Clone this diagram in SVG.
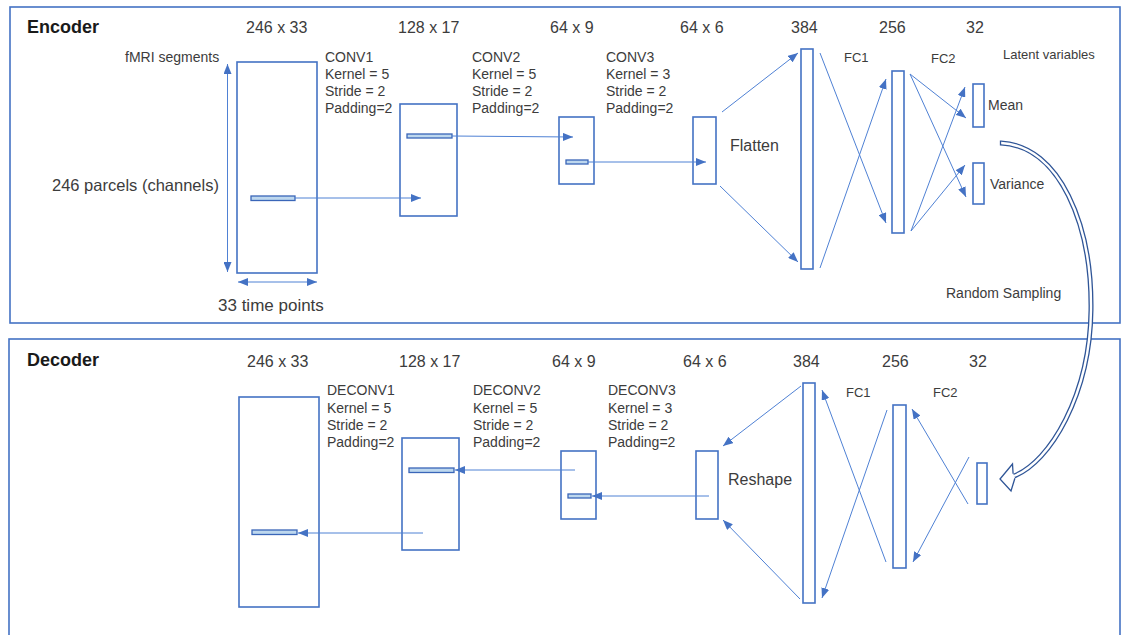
<svg xmlns="http://www.w3.org/2000/svg" width="1122" height="635" viewBox="0 0 1122 635">
<defs>
<style>
.frame{fill:none;stroke:#4472c4;stroke-width:1.6}
.box{fill:#fff;stroke:#4472c4;stroke-width:1.6}
.ker{fill:#bdd7ee;stroke:#3a66b8;stroke-width:1.3}
.ln{fill:none;stroke:#4f81d4;stroke-width:1}
.t{font-family:"Liberation Sans",Arial,sans-serif;fill:#3c3c3c}
.dim{font-size:16px}
.lab{font-size:14px}
.sm{font-size:13px}
.title{font-family:"Liberation Sans",Arial,sans-serif;font-size:18px;font-weight:bold;fill:#1a1a1a}
</style>
<marker id="ah" viewBox="0 0 10 8" refX="10" refY="4" markerWidth="10" markerHeight="8" orient="auto-start-reverse" markerUnits="userSpaceOnUse">
<path d="M0,0 L10,4 L0,8 z" fill="#4472c4"/>
</marker>
</defs>
<rect width="1122" height="635" fill="#fff"/>

<g id="encoder-frame">
<rect class="frame" x="10" y="7" width="1110" height="316"/>
<text class="title" x="27" y="33">Encoder</text>
</g>
<g id="decoder-frame">
<rect class="frame" x="9" y="339" width="1111" height="310"/>
<text class="title" x="27" y="366">Decoder</text>
</g>

<g id="enc-input">
<rect class="box" x="237" y="62" width="80" height="211"/>
<rect class="ker" x="251" y="196" width="44" height="4.5"/>
<text class="t dim" x="246" y="33">246 x 33</text>
<text class="t lab" x="125" y="62">fMRI segments</text>
<text class="t" style="font-size:16.5px" x="52" y="191">246 parcels (channels)</text>
<text class="t" style="font-size:17px" x="218" y="311">33 time points</text>
</g>
<g id="enc-conv1">
<rect class="box" x="400" y="104" width="57" height="112"/>
<rect class="ker" x="407" y="134" width="45" height="4"/>
<text class="t dim" x="398" y="33">128 x 17</text>
<text class="t lab" x="325" y="62">CONV1</text>
<text class="t lab" x="325" y="79">Kernel = 5</text>
<text class="t lab" x="325" y="96">Stride = 2</text>
<text class="t lab" x="325" y="113">Padding=2</text>
</g>
<g id="enc-conv2">
<rect class="box" x="559" y="117" width="35" height="67"/>
<rect class="ker" x="566" y="160" width="22" height="4"/>
<text class="t dim" x="550" y="33">64 x 9</text>
<text class="t lab" x="472" y="62">CONV2</text>
<text class="t lab" x="472" y="79">Kernel = 5</text>
<text class="t lab" x="472" y="96">Stride = 2</text>
<text class="t lab" x="472" y="113">Padding=2</text>
</g>
<g id="enc-conv3">
<rect class="box" x="693" y="117" width="23" height="67"/>
<text class="t dim" x="680" y="33">64 x 6</text>
<text class="t lab" x="606" y="62">CONV3</text>
<text class="t lab" x="606" y="79">Kernel = 3</text>
<text class="t lab" x="606" y="96">Stride = 2</text>
<text class="t lab" x="606" y="113">Padding=2</text>
<text class="t dim" x="730" y="151">Flatten</text>
</g>
<g id="enc-384">
<rect class="box" x="801" y="49" width="12" height="220"/>
<text class="t dim" x="791" y="33">384</text>
<text class="t sm" x="844" y="62">FC1</text>
</g>
<g id="enc-256">
<rect class="box" x="892" y="71" width="12" height="162"/>
<text class="t dim" x="879" y="33">256</text>
<text class="t sm" x="931" y="63">FC2</text>
</g>
<g id="enc-latent">
<text class="t dim" x="966" y="33">32</text>
<text class="t sm" x="1003" y="59">Latent variables</text>
<rect class="box" x="973" y="84" width="11" height="43"/>
<text class="t lab" x="988" y="110">Mean</text>
<rect class="box" x="973" y="163" width="11" height="41"/>
<text class="t lab" x="990" y="189">Variance</text>
<text class="t lab" x="946" y="298">Random Sampling</text>
</g>

<g id="dec-output">
<rect class="box" x="239" y="397" width="80" height="210"/>
<rect class="ker" x="252" y="530" width="45" height="4.5"/>
<text class="t dim" x="247" y="367">246 x 33</text>
<text class="t lab" x="327" y="395">DECONV1</text>
<text class="t lab" x="327" y="413">Kernel = 5</text>
<text class="t lab" x="327" y="430">Stride = 2</text>
<text class="t lab" x="327" y="447">Padding=2</text>
</g>
<g id="dec-deconv1">
<rect class="box" x="402" y="438" width="57" height="112"/>
<rect class="ker" x="409" y="468" width="45" height="4.5"/>
<text class="t dim" x="399" y="367">128 x 17</text>
<text class="t lab" x="473" y="395">DECONV2</text>
<text class="t lab" x="473" y="413">Kernel = 5</text>
<text class="t lab" x="473" y="430">Stride = 2</text>
<text class="t lab" x="473" y="447">Padding=2</text>
</g>
<g id="dec-deconv2">
<rect class="box" x="561" y="451" width="35" height="68"/>
<rect class="ker" x="568" y="494" width="23" height="4"/>
<text class="t dim" x="552" y="367">64 x 9</text>
<text class="t lab" x="608" y="395">DECONV3</text>
<text class="t lab" x="608" y="413">Kernel = 3</text>
<text class="t lab" x="608" y="430">Stride = 2</text>
<text class="t lab" x="608" y="447">Padding=2</text>
</g>
<g id="dec-deconv3">
<rect class="box" x="696" y="451" width="22" height="68"/>
<text class="t dim" x="683" y="367">64 x 6</text>
<text class="t dim" x="728" y="485">Reshape</text>
</g>
<g id="dec-384">
<rect class="box" x="803" y="383" width="12" height="220"/>
<text class="t dim" x="793" y="367">384</text>
<text class="t sm" x="846" y="397">FC1</text>
</g>
<g id="dec-256">
<rect class="box" x="893" y="405" width="13" height="163"/>
<text class="t dim" x="882" y="367">256</text>
<text class="t sm" x="933" y="397">FC2</text>
</g>
<g id="dec-latent">
<rect class="box" x="977" y="463" width="10" height="41"/>
<text class="t dim" x="969" y="367">32</text>
</g>

<g id="connectors">
<line class="ln" x1="227.5" y1="64" x2="227.5" y2="272" marker-start="url(#ah)" marker-end="url(#ah)"/>
<line class="ln" x1="238" y1="282" x2="317" y2="282" marker-start="url(#ah)" marker-end="url(#ah)"/>
<line class="ln" x1="295" y1="198" x2="421" y2="198" marker-end="url(#ah)"/>
<line class="ln" x1="452" y1="136" x2="573" y2="137" marker-end="url(#ah)"/>
<line class="ln" x1="588" y1="162" x2="706" y2="162" marker-end="url(#ah)"/>
<line class="ln" x1="722" y1="112" x2="798" y2="53" marker-end="url(#ah)"/>
<line class="ln" x1="720" y1="186" x2="798" y2="262" marker-end="url(#ah)"/>
<line class="ln" x1="820" y1="53" x2="886" y2="223" marker-end="url(#ah)"/>
<line class="ln" x1="820" y1="268" x2="886" y2="79" marker-end="url(#ah)"/>
<line class="ln" x1="910" y1="74" x2="966" y2="118" marker-end="url(#ah)"/>
<line class="ln" x1="910" y1="74" x2="966" y2="197" marker-end="url(#ah)"/>
<line class="ln" x1="911" y1="231" x2="965" y2="87" marker-end="url(#ah)"/>
<line class="ln" x1="911" y1="231" x2="965" y2="165" marker-end="url(#ah)"/>

<line class="ln" x1="423" y1="533" x2="298" y2="533" marker-end="url(#ah)"/>
<line class="ln" x1="575" y1="470" x2="455" y2="470" marker-end="url(#ah)"/>
<line class="ln" x1="709" y1="496" x2="592" y2="496" marker-end="url(#ah)"/>
<line class="ln" x1="801" y1="386" x2="723" y2="446" marker-end="url(#ah)"/>
<line class="ln" x1="800" y1="599" x2="723" y2="520" marker-end="url(#ah)"/>
<line class="ln" x1="887" y1="410" x2="822" y2="598" marker-end="url(#ah)"/>
<line class="ln" x1="886" y1="562" x2="822" y2="390" marker-end="url(#ah)"/>
<line class="ln" x1="969" y1="457" x2="913" y2="562" marker-end="url(#ah)"/>
<line class="ln" x1="968" y1="504" x2="912" y2="409" marker-end="url(#ah)"/>

<g id="sampling-arrow">
<path d="M1001,143 C1060,146 1092,225 1091,310 C1090,395 1050,462 1014,476" fill="none" stroke="#2f5597" stroke-width="5"/>
<path d="M1001,143 C1060,146 1092,225 1091,310 C1090,395 1050,462 1014,476" fill="none" stroke="#fff" stroke-width="2.4"/>
<line x1="1000.5" y1="140.5" x2="1000.5" y2="145.5" stroke="#2f5597" stroke-width="1.3"/>
<path d="M1013.1,473.7 L1012.5,464 L1000,479 L1011,491 L1014.9,478.3 z" fill="#fff" stroke="none"/>
<path d="M1013.1,473.7 L1012.5,464 L1000,479 L1011,491 L1014.9,478.3" fill="none" stroke="#2f5597" stroke-width="1.3" stroke-linejoin="miter"/>
</g>
</g>
</svg>
